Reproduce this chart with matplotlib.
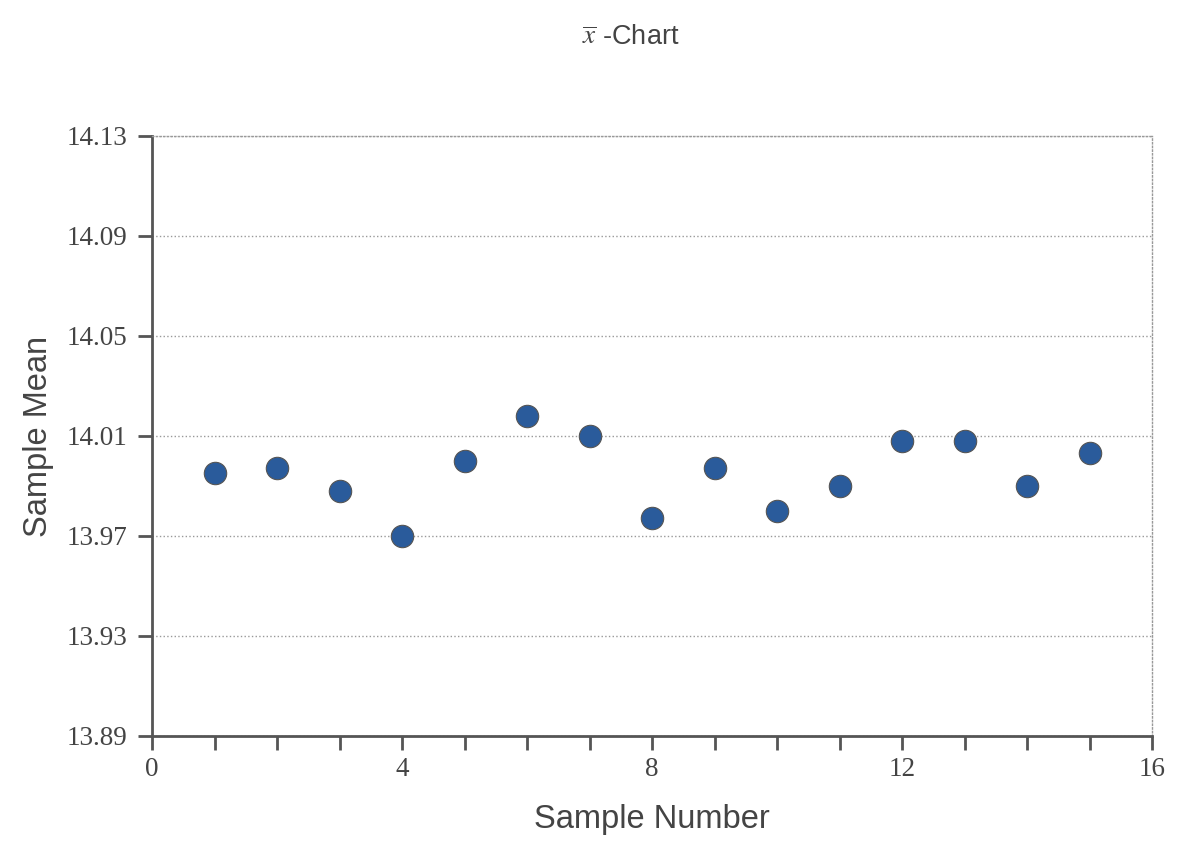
import matplotlib
matplotlib.use("Agg")
import matplotlib.pyplot as plt
from matplotlib.ticker import MultipleLocator

sample = [1, 2, 3, 4, 5, 6, 7, 8, 9, 10, 11, 12, 13, 14, 15]
means = [13.995, 13.997, 13.988, 13.970, 14.000, 14.018, 14.010, 13.977,
         13.997, 13.980, 13.990, 14.008, 14.008, 13.990, 14.003]
yticks = [13.89, 13.93, 13.97, 14.01, 14.05, 14.09, 14.13]
xticks = [0, 4, 8, 12, 16]

plt.rcParams['mathtext.fontset'] = 'stix'
dark = '#555555'

fig = plt.figure(figsize=(11.84, 8.42), dpi=100)
ax = fig.add_axes([0.1284, 0.1259, 0.8446, 0.7126])

ax.scatter(sample, means, s=260, color='#2a5b9b', edgecolor='#555555',
           linewidth=0.8, zorder=3)

ax.set_xlim(0, 16)
ax.set_ylim(13.89, 14.13)
ax.set_xticks(xticks)
ax.xaxis.set_minor_locator(MultipleLocator(1))
ax.set_yticks(yticks)
ax.set_yticklabels(['%.2f' % v for v in yticks])

for lab in ax.get_xticklabels() + ax.get_yticklabels():
    lab.set_family('Liberation Serif')
    lab.set_fontsize(19.5)
    lab.set_color('#444444')

ax.tick_params(which='both', direction='out', length=10, width=2, color=dark)
ax.tick_params(axis='x', pad=5)
ax.tick_params(axis='y', pad=8)

ax.grid(axis='y', linestyle=':', color='#999999', linewidth=1)
ax.spines['left'].set_color(dark)
ax.spines['bottom'].set_color(dark)
ax.spines['left'].set_linewidth(2)
ax.spines['bottom'].set_linewidth(2)
for side in ['right', 'top']:
    ax.spines[side].set_linestyle(':')
    ax.spines[side].set_color('#999999')
    ax.spines[side].set_linewidth(1)

ax.set_xlabel('Sample Number', family='Liberation Sans', fontsize=23.5,
              color='#444444', labelpad=16)
ax.set_ylabel('Sample Mean', family='Liberation Sans', fontsize=23.5,
              color='#444444', labelpad=9)
fig.text(0.533, 0.956, r'$\overline{x}$ -Chart', family='Liberation Sans',
         fontsize=19.5, color='#444444', ha='center', va='center')

fig.savefig('out.png', dpi=100)
